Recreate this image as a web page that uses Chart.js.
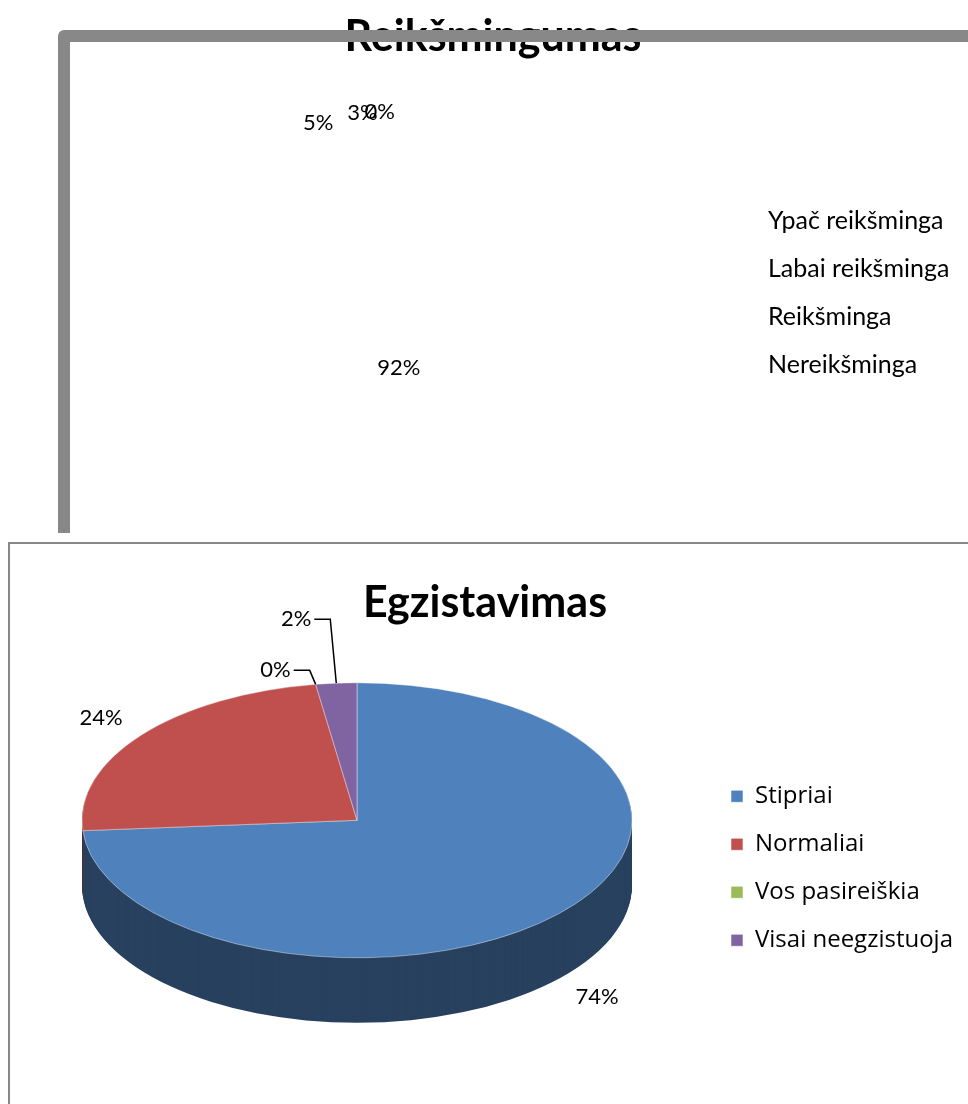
<!DOCTYPE html>
<html>
<head>
<meta charset="utf-8">
<script src="https://cdn.jsdelivr.net/npm/chart.js@4.4.1/dist/chart.umd.min.js"></script>
<style>
  html, body { margin: 0; padding: 0; width: 968px; height: 1104px; overflow: hidden; background: #fff; }
  .wrap { position: absolute; left: 0; width: 968px; overflow: hidden; }
  #topWrap { top: 0; height: 533px; }
  #botWrap { top: 542px; height: 562px; }
  canvas { position: absolute; left: 0; top: 0; z-index: 1; }
  .frame { position: absolute; box-sizing: border-box; z-index: 2; }
  #topFrame { left: 58px; top: 30px; width: 1000px; height: 600px; border: 12px solid #888; border-radius: 6px; }
  #botFrame { left: 8px; top: 0; width: 1000px; height: 700px; border: 2px solid #878787; }
</style>
</head>
<body>
<div class="wrap" id="topWrap">
  <canvas id="topChart" width="968" height="533"></canvas>
  <div class="frame" id="topFrame"></div>
</div>
<div class="wrap" id="botWrap">
  <canvas id="botChart" width="968" height="562"></canvas>
  <div class="frame" id="botFrame"></div>
</div>
<script>
// data
const topTitle = 'Reikšmingumas';
const topLabels = ['Ypač reikšminga', 'Labai reikšminga', 'Reikšminga', 'Nereikšminga'];
const topValues = [92, 5, 3, 0];

const botTitle = 'Egzistavimas';
const botLabels = ['Stipriai', 'Normaliai', 'Vos pasireiškia', 'Visai neegzistuoja'];
const botValues = [73.8, 23.8, 0, 2.4];
const botColors = ['#4F81BD', '#C0504D', '#9BBB59', '#8064A2'];
const botSideColors = ['#28415F', '#612827', '#4E5E2D', '#403251'];

Chart.defaults.font.family = 'Lato';
Chart.defaults.color = '#000';
Chart.defaults.animation = false;

function widest(list, font) {
  const c = document.createElement('canvas').getContext('2d');
  c.font = font;
  return Math.max(...list.map(s => c.measureText(s).width));
}

// tilted pie with a side wall (squashes the arcs vertically)
const pie3d = {
  id: 'pie3d',
  beforeDatasetsDraw(chart, args, o) {
    const ctx = chart.ctx;
    const arcs = chart.getDatasetMeta(0).data;
    const {x, y} = arcs[0];
    ctx.save();
    ctx.translate(x, y - o.lift);
    ctx.scale(1, o.tilt);
    ctx.translate(-x, -y);
    for (let d = o.depth; d > 0; d--) {
      arcs.forEach((arc, i) => {
        const p = arc.getProps(['x', 'y', 'startAngle', 'endAngle', 'outerRadius']);
        if (p.endAngle - p.startAngle <= 0) return;
        const yy = p.y + d / o.tilt;
        ctx.beginPath();
        ctx.moveTo(p.x, yy);
        ctx.arc(p.x, yy, p.outerRadius, p.startAngle, p.endAngle);
        ctx.closePath();
        ctx.fillStyle = o.sideColors[i];
        ctx.fill();
      });
    }
  },
  afterDatasetsDraw(chart) {
    chart.ctx.restore();
  }
};

// percentage labels, placed from the arc angles
const pctLabels = {
  id: 'pctLabels',
  afterDraw(chart, args, o) {
    const ctx = chart.ctx;
    const arcs = chart.getDatasetMeta(0).data;
    const values = chart.data.datasets[0].data;
    const total = values.reduce((a, b) => a + b, 0);
    ctx.save();
    ctx.font = o.size + 'px Lato';
    ctx.fillStyle = '#000';
    ctx.strokeStyle = '#000';
    ctx.lineWidth = 1.5;
    ctx.textBaseline = 'middle';
    let k = 0;
    arcs.forEach((arc, i) => {
      const p = arc.getProps(['x', 'y', 'startAngle', 'endAngle', 'outerRadius']);
      const pct = values[i] / total * 100;
      const text = Math.round(pct) + '%';
      const mid = (p.startAngle + p.endAngle) / 2;
      const cx = p.x, cy = p.y - o.lift, r = p.outerRadius;
      const cos = Math.cos(mid), sin = Math.sin(mid);
      if (o.leaders && pct < 5) {
        const ax = cx + cos * r, ay = cy + sin * r * o.tilt;
        const bx = ax - 6, by = ay - o.rise - o.riseStep * k++;
        ctx.beginPath();
        ctx.moveTo(ax, ay);
        ctx.lineTo(bx, by);
        ctx.lineTo(bx - 16, by);
        ctx.stroke();
        ctx.textAlign = 'right';
        ctx.fillText(text, bx - 19, by);
        return;
      }
      const f = pct >= o.insideMin ? o.inside : o.outside;
      let ly = cy + sin * r * o.tilt * f;
      if (sin > 0) ly += o.depth;
      ctx.textAlign = 'center';
      ctx.fillText(text, cx + cos * r * f, ly);
    });
    ctx.restore();
  }
};

// top chart (slices have no fill, only labels show)
const topTw = widest(topLabels, '25px Lato');
new Chart(document.getElementById('topChart'), {
  type: 'pie',
  data: {
    labels: topLabels,
    datasets: [{
      data: topValues,
      backgroundColor: 'rgba(0,0,0,0)',
      borderWidth: 0,
      radius: 155
    }]
  },
  options: {
    responsive: false,
    events: [],
    layout: { padding: { left: 208 - topTw, right: 968 - 769 - topTw - 9, top: 0, bottom: 13 } },
    plugins: {
      title: {
        display: true,
        text: topTitle,
        font: { family: 'Lato', size: 43, weight: 'bold' },
        padding: { top: 11, bottom: 4 }
      },
      legend: {
        position: 'right',
        fullSize: false,
        labels: { font: { family: 'Lato', size: 25 }, boxWidth: 0, boxHeight: 0, padding: 23 }
      },
      tooltip: { enabled: false },
      pctLabels: { size: 22, tilt: 1, lift: 0, depth: 0, outside: 1.17, inside: 0.5, insideMin: 50, leaders: false }
    }
  },
  plugins: [pctLabels]
});

// bottom chart
const botTw = widest(botLabels, '24px "Open Sans"');
new Chart(document.getElementById('botChart'), {
  type: 'pie',
  data: {
    labels: botLabels,
    datasets: [{
      data: botValues,
      backgroundColor: botColors,
      borderColor: 'rgba(255,255,255,0.55)',
      borderWidth: 1,
      radius: 275,
      clip: false
    }]
  },
  options: {
    responsive: false,
    events: [],
    layout: { padding: { left: 7, right: 968 - 755 - botTw - 10, top: 0, bottom: 0 } },
    plugins: {
      title: {
        display: true,
        text: botTitle,
        font: { family: 'Lato', size: 43, weight: 'bold' },
        padding: { top: 35, bottom: 4 }
      },
      legend: {
        position: 'right',
        fullSize: false,
        labels: { font: { family: 'Open Sans', size: 24 }, boxWidth: 12, boxHeight: 12, padding: 24 }
      },
      tooltip: { enabled: false },
      pie3d: { tilt: 0.5, depth: 65, lift: 48, sideColors: botSideColors },
      pctLabels: { size: 22, tilt: 0.5, lift: 48, depth: 65, outside: 1.19, inside: 0.5, insideMin: 101, leaders: true, rise: 14, riseStep: 50 }
    }
  },
  plugins: [pie3d, pctLabels]
});
</script>
</body>
</html>
